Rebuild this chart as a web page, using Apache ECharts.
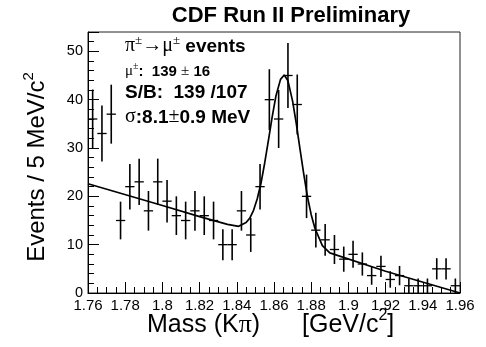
<!DOCTYPE html>
<html><head><meta charset="utf-8">
<script src="https://cdn.jsdelivr.net/npm/echarts@6/dist/echarts.min.js"></script>
<style>html,body{margin:0;padding:0;background:#fff}#c{width:486px;height:347px}</style>
</head><body><div id="c"></div>
<script>
// Bin centres (GeV/c^2), 5 MeV bins
const massCenters = [1.7625,1.7675,1.7725,1.7775,1.7825,1.7875,1.7925,1.7975,1.8025,1.8075,
  1.8125,1.8175,1.8225,1.8275,1.8325,1.8375,1.8425,1.8475,1.8525,1.8575,
  1.8625,1.8675,1.8725,1.8775,1.8825,1.8875,1.8925,1.8975,1.9025,1.9075,
  1.9125,1.9175,1.9225,1.9275,1.9325,1.9375,1.9425,1.9475,1.9525,1.9575];
const counts = [36,33,37,15,22,23,17,23,19,16,
  15,17,16,15,10,10,17,12,22,40,
  36,45,39,20,13,11,9,7,8,6,
  3.6,5.5,2.8,3.6,1.5,1.5,1.5,5,5,1.5];
const errors = [6.1,5.8,6.1,3.9,4.7,4.8,4.1,4.8,4.4,4.0,
  3.9,4.1,4.0,3.9,3.2,3.2,4.1,3.5,4.7,6.3,
  6.0,6.7,6.2,4.5,3.6,3.3,3.0,2.6,2.8,2.4,
  1.9,2.2,1.7,2.0,1.5,1.5,1.5,2.2,2.2,1.5];
const binHalfWidth = 0.0025;
// Fit curve
const fitMass = [1.760,1.800,1.820,1.835,1.841,1.845,1.847,1.849,1.851,1.853,1.855,1.857,1.859,1.861,1.8635,1.8655,1.8675,1.870,1.872,1.874,1.876,1.878,1.880,1.882,1.886,1.890,1.920,1.960];
const fitValue = [22.6,18.1,15.8,14.2,13.8,14.6,15.5,17.1,19.5,22.7,26.9,31.6,36.4,40.7,44.2,45.1,43.9,39.7,35.0,29.7,24.6,19.9,16.2,13.4,9.8,8.3,4.5,0.0];
const xMin = 1.76, xMax = 1.96, xStep = 0.02;
const yMin = 0, yMax = 54, yStep = 10, yMinorStep = 2;

const chart = echarts.init(document.getElementById('c'), null, {renderer: 'canvas'});
const SANS = 'Liberation Sans, Arial, Helvetica, sans-serif';
const SERIF = 'Liberation Serif, DejaVu Serif, serif';

const option = {
  animation: false,
  backgroundColor: '#fff',
  grid: {left: 88, right: 26, top: 32, bottom: 54, show: true, borderColor: '#222', borderWidth: 1, backgroundColor: 'transparent'},
  xAxis: [{
    type: 'value', min: xMin, max: xMax, interval: xStep,
    axisLine: {show: true, onZero: false, lineStyle: {color: '#000', width: 1}},
    axisTick: {show: true, inside: true, length: 11, lineStyle: {color: '#000', width: 1}},
    minorTick: {show: true, splitNumber: 4, length: 6, lineStyle: {color: '#000', width: 1}},
    splitLine: {show: false},
    axisLabel: {margin: 5, fontFamily: SANS, fontSize: 15, color: '#000',
      formatter: v => String(parseFloat(v.toFixed(2))), showMinLabel: true, showMaxLabel: true}
  }],
  yAxis: [{
    type: 'value', min: yMin, max: yMax, interval: yStep, position: 'left',
    axisLine: {show: true, onZero: false, lineStyle: {color: '#000', width: 1}},
    axisTick: {show: true, inside: true, length: 11, lineStyle: {color: '#000', width: 1}},
    splitLine: {show: false},
    axisLabel: {margin: 5, fontFamily: SANS, fontSize: 14.5, color: '#000',
      formatter: v => (Math.abs(v % 10) < 1e-6 ? String(v) : '')}
  }, {
    type: 'value', min: yMin, max: yMax, interval: yMinorStep, position: 'left',
    axisLine: {show: false},
    axisTick: {show: true, inside: true, length: 6, lineStyle: {color: '#000', width: 1}},
    splitLine: {show: false},
    axisLabel: {show: false}
  }],
  series: [{
    type: 'custom',
    xAxisIndex: 0, yAxisIndex: 0,
    data: massCenters.map((m, i) => [m, counts[i], errors[i]]),
    renderItem: function (params, api) {
      const m = api.value(0), v = api.value(1), e = api.value(2);
      const lo = Math.max(yMin, v - e), hi = Math.min(yMax, v + e);
      const pL = api.coord([m - binHalfWidth, v]);
      const pR = api.coord([m + binHalfWidth, v]);
      const pB = api.coord([m, lo]);
      const pT = api.coord([m, hi]);
      return {type: 'group', children: [
        {type: 'line', shape: {x1: pL[0], y1: pL[1], x2: pR[0], y2: pR[1]}, style: {stroke: '#000', lineWidth: 1.3}},
        {type: 'line', shape: {x1: pB[0], y1: pB[1], x2: pT[0], y2: pT[1]}, style: {stroke: '#000', lineWidth: 1.6}}
      ]};
    }
  }, {
    type: 'line',
    xAxisIndex: 0, yAxisIndex: 0,
    data: fitMass.map((m, i) => [m, fitValue[i]]),
    showSymbol: false, symbol: 'none', smooth: false,
    lineStyle: {color: '#000', width: 1.7}
  }],
  graphic: [
    {type: 'text', x: 291, y: 16, style: {text: 'CDF Run II Preliminary', font: 'bold 22px ' + SANS, fill: '#000', textAlign: 'center', textVerticalAlign: 'middle'}},
    {type: 'text', x: 125, y: 45, style: {
      text: '{g|π}{s|±}{g|→μ}{s|±}{b| events}', textAlign: 'left', textVerticalAlign: 'middle',
      rich: {
        g: {fontFamily: SERIF, fontSize: 20, fill: '#000', verticalAlign: 'bottom', lineHeight: 22},
        s: {fontFamily: SERIF, fontSize: 13, fill: '#000', verticalAlign: 'top', lineHeight: 22},
        b: {fontFamily: SANS, fontWeight: 'bold', fontSize: 19, fill: '#000', verticalAlign: 'bottom', lineHeight: 22}
      }}},
    {type: 'text', x: 125, y: 70, style: {
      text: '{g|μ}{s|±}{b|:  139 }{g|±}{b| 16}', textAlign: 'left', textVerticalAlign: 'middle',
      rich: {
        g: {fontFamily: SERIF, fontSize: 15, fill: '#000', verticalAlign: 'bottom', lineHeight: 18},
        s: {fontFamily: SERIF, fontSize: 10, fill: '#000', verticalAlign: 'top', lineHeight: 18},
        b: {fontFamily: SANS, fontWeight: 'bold', fontSize: 15, fill: '#000', verticalAlign: 'bottom', lineHeight: 18}
      }}},
    {type: 'text', x: 125, y: 93, style: {text: 'S/B:  139 /107', font: 'bold 19px ' + SANS, fill: '#000', textAlign: 'left', textVerticalAlign: 'middle'}},
    {type: 'text', x: 125, y: 116, style: {
      text: '{g|σ}{b|:8.1}{g|±}{b|0.9 MeV}', textAlign: 'left', textVerticalAlign: 'middle',
      rich: {
        g: {fontFamily: SERIF, fontSize: 20, fill: '#000', verticalAlign: 'bottom', lineHeight: 22},
        b: {fontFamily: SANS, fontWeight: 'bold', fontSize: 19, fill: '#000', verticalAlign: 'bottom', lineHeight: 22}
      }}},
    {type: 'text', x: 35, y: 167, rotation: Math.PI / 2, style: {
      text: '{a|Events / 5 MeV/c}{s|2}', textAlign: 'center', textVerticalAlign: 'middle',
      rich: {
        a: {fontFamily: SANS, fontSize: 24, fill: '#000', verticalAlign: 'bottom', lineHeight: 28},
        s: {fontFamily: SANS, fontSize: 15, fill: '#000', verticalAlign: 'top', lineHeight: 28}
      }}},
    {type: 'text', x: 147, y: 323, style: {
      text: '{a|Mass (K}{g|π}{a|)}', textAlign: 'left', textVerticalAlign: 'middle',
      rich: {
        a: {fontFamily: SANS, fontSize: 25, fill: '#000', verticalAlign: 'bottom', lineHeight: 30},
        g: {fontFamily: SERIF, fontSize: 26, fill: '#000', verticalAlign: 'bottom', lineHeight: 30}
      }}},
    {type: 'text', x: 302, y: 323, style: {
      text: '{a|[GeV/c}{s|2}{a|]}', textAlign: 'left', textVerticalAlign: 'middle',
      rich: {
        a: {fontFamily: SANS, fontSize: 25, fill: '#000', verticalAlign: 'bottom', lineHeight: 30},
        s: {fontFamily: SANS, fontSize: 16, fill: '#000', verticalAlign: 'top', lineHeight: 30}
      }}}
  ]
};
chart.setOption(option);
</script>
</body></html>
